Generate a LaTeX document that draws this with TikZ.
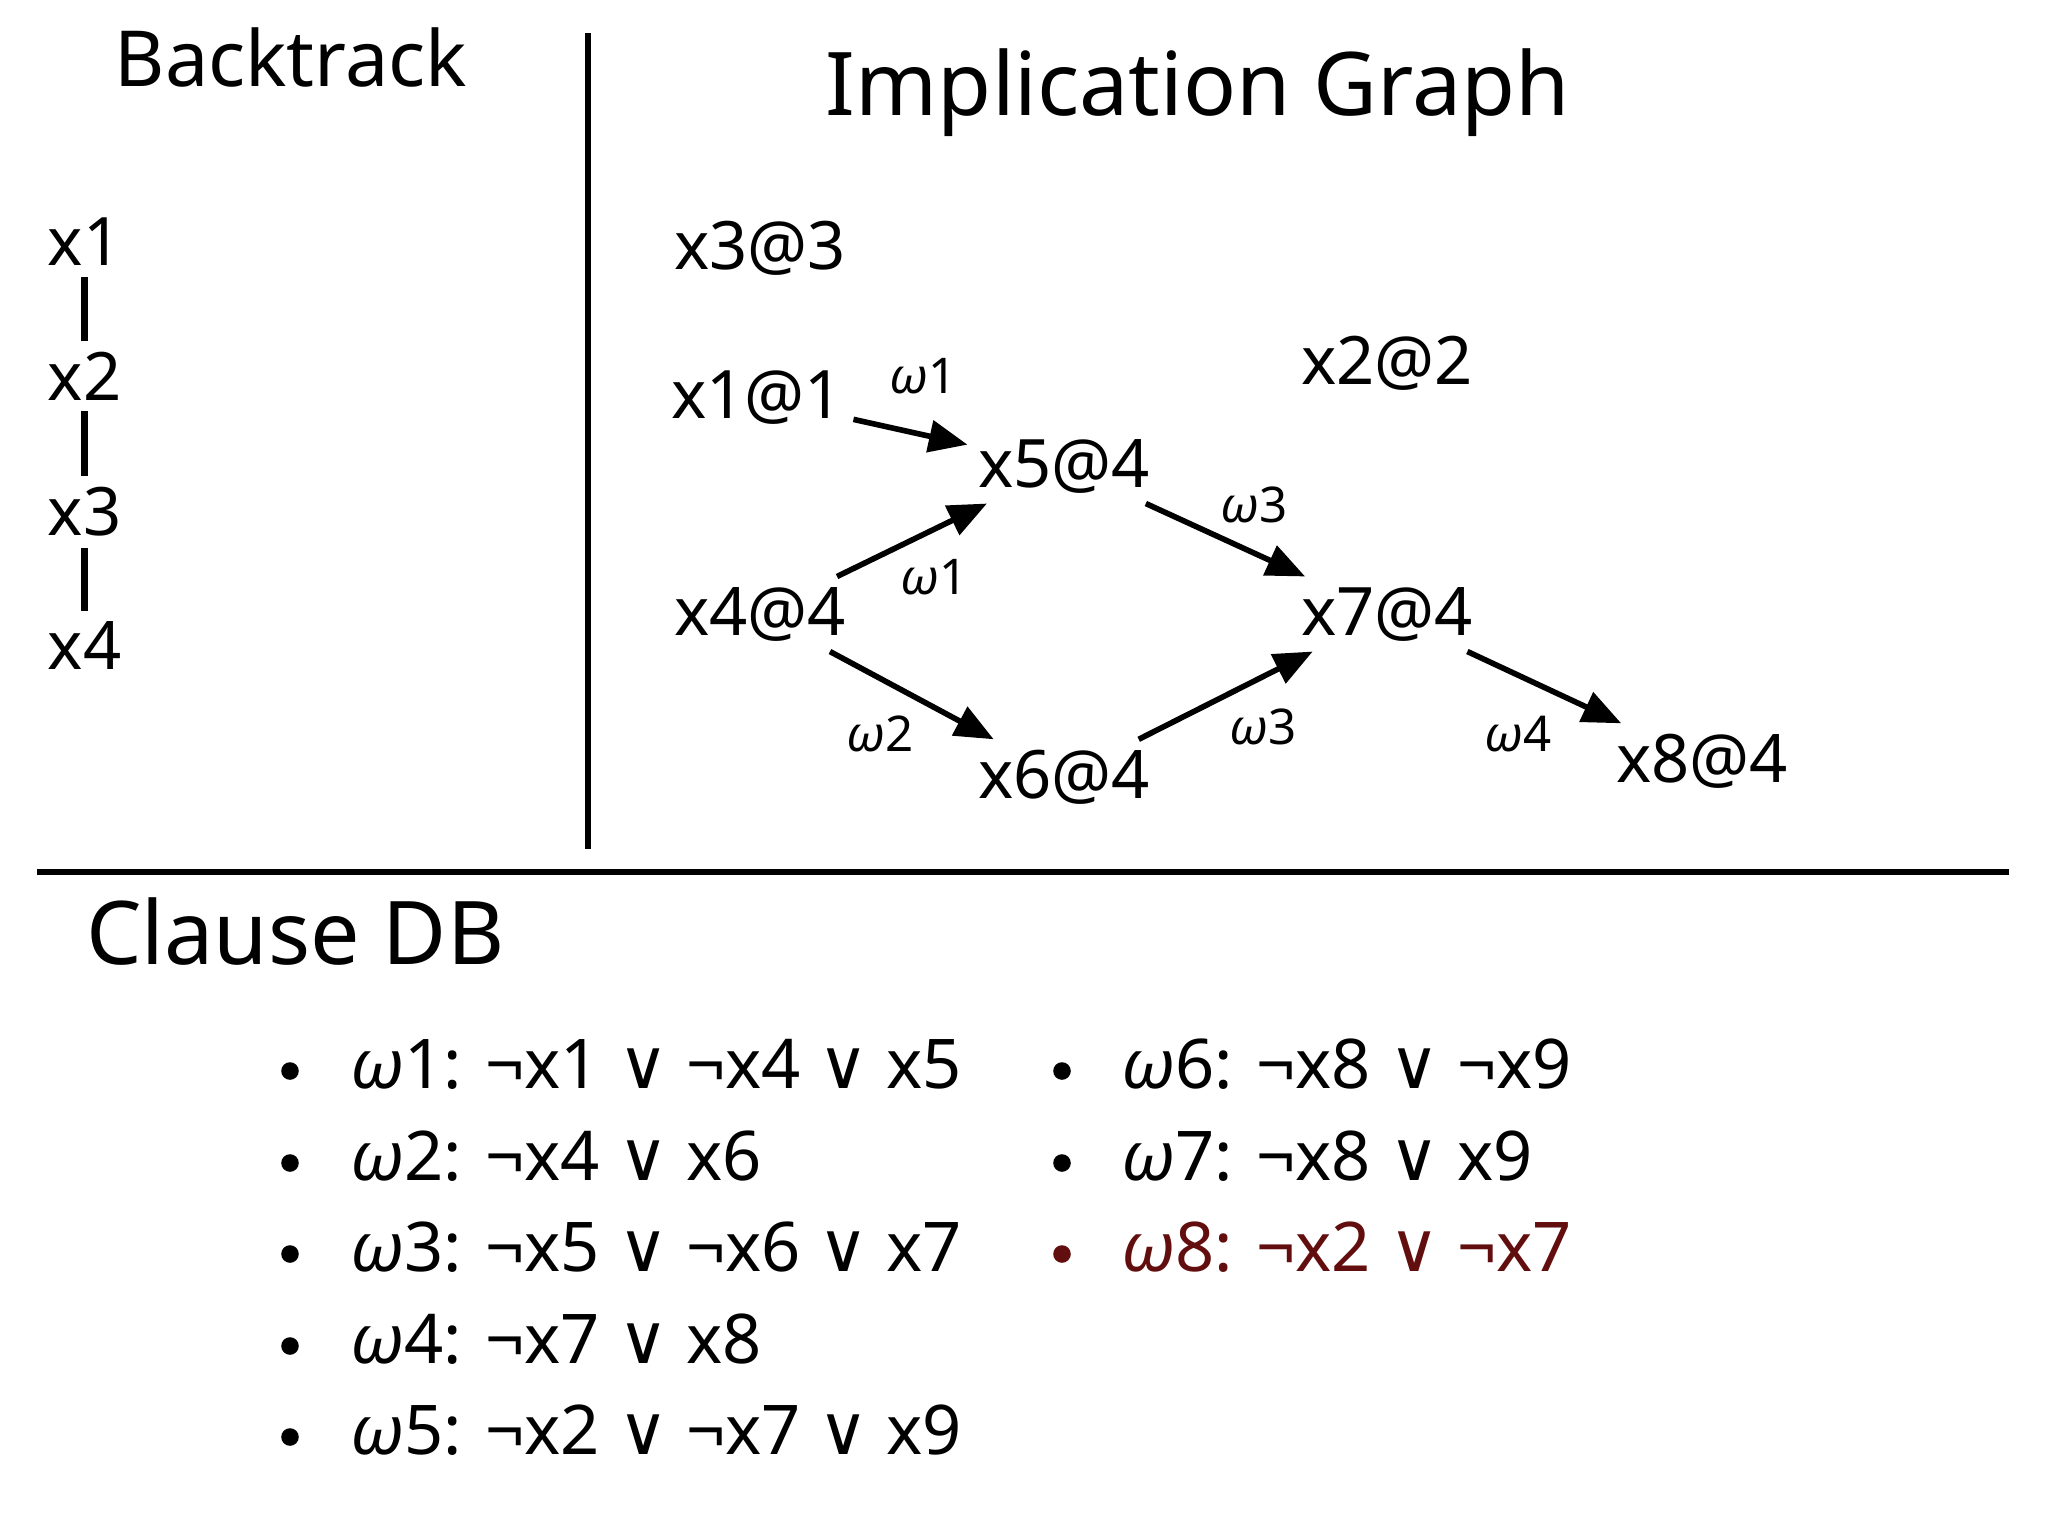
\documentclass[tikz,border=0pt]{standalone}
\usepackage{fontspec}
\setmainfont{Noto Sans}
\newfontfamily\symfont{DejaVu Sans}
\usetikzlibrary{arrows.meta, positioning}
\usepackage{xcolor}
\definecolor{conflict}{RGB}{98,14,14}
\newcommand{\om}{\textit{ω}}
\newcommand{\orsym}{{\symfont ∨}}

\begin{document}
\begin{tikzpicture}[x=0.01cm, y=-0.01cm, >={Triangle[length=11pt,width=9pt]}]
    \tikzstyle{heading}=[font=\fontsize{25}{30}\selectfont]
    \tikzstyle{var}=[font=\fontsize{19}{22}\selectfont, inner sep=2pt, anchor=west]
    \tikzstyle{lit}=[font=\fontsize{19}{22}\selectfont, inner sep=2pt, outer sep=1pt]
    \tikzstyle{reason}=[font=\fontsize{14}{16}\selectfont]
    \tikzstyle{imply}=[->, line width=1.6pt]
    \tikzstyle{bar}=[line width=2.2pt, shorten <=1pt, shorten >=1pt]
    \tikzstyle{rule}=[line width=1.7pt]
    \tikzstyle{dot}=[circle, fill, inner sep=0pt, minimum size=5pt]
    \tikzstyle{clause}=[font=\fontsize{19.5}{24}\selectfont, anchor=west, inner sep=0pt]

    \useasboundingbox (0,0) rectangle (2048,1536);

    % panels
    \draw[rule] (588,33) -- (588,849);
    \draw[rule] (37,872) -- (2009,872);
    \node[heading, font=\fontsize{22}{26}\selectfont] (bt) at (291,57) {Backtrack};
    \node[heading] (ig) at (1198,93) {Implication Graph};
    \node[heading, anchor=west] (db) at (74,932) {Clause DB};

    % decision stack
    \foreach \i/\y in {1/242,2/376,3/512,4/646}
        \node[var] (b-\i) at (40,\y) {x\i};
    \foreach \i/\j in {1/2,2/3,3/4}
        \draw[bar] (b-\i.south) -- (b-\j.north);

    % implication graph
    \node[lit] (x3) at (760,248) {x3@3};
    \node[lit] (x1) at (757,398) {x1@1};
    \node[lit] (x2) at (1387,363) {x2@2};
    \node[lit] (x5) at (1064,466) {x5@4};
    \node[lit] (x4) at (760,614) {x4@4};
    \node[lit] (x7) at (1387,614) {x7@4};
    \node[lit] (x6) at (1064,777) {x6@4};
    \node[lit] (x8) at (1702,761) {x8@4};

    \draw[imply] (x1) -- (x5);
    \draw[imply] (x4) -- (x5);
    \draw[imply] (x4) -- (x6);
    \draw[imply] (x5) -- (x7);
    \draw[imply] (x6) -- (x7);
    \draw[imply] (x7) -- (x8);

    \node[reason] (r-15) at (923,376) {\om 1};
    \node[reason] (r-45) at (934,577) {\om 1};
    \node[reason] (r-46) at (880,734) {\om 2};
    \node[reason] (r-57) at (1254,505) {\om 3};
    \node[reason] (r-67) at (1263,727) {\om 3};
    \node[reason] (r-78) at (1518,734) {\om 4};

    % clause database
    \foreach \n/\y/\body in {1/1064/{¬x1 \orsym{} ¬x4 \orsym{} x5},
                             2/1156/{¬x4 \orsym{} x6},
                             3/1247/{¬x5 \orsym{} ¬x6 \orsym{} x7},
                             4/1339/{¬x7 \orsym{} x8},
                             5/1430/{¬x2 \orsym{} ¬x7 \orsym{} x9}}
    {
        \node[dot] (d-\n) at (290,\y+7) {};
        \node[clause] (c-\n) at (350,\y) {\om\n: \body};
    }
    \foreach \n/\y/\body in {6/1064/{¬x8 \orsym{} ¬x9},
                             7/1156/{¬x8 \orsym{} x9}}
    {
        \node[dot] (d-\n) at (1062,\y+7) {};
        \node[clause] (c-\n) at (1121,\y) {\om\n: \body};
    }
    \node[dot, conflict] (d-8) at (1062,1254) {};
    \node[clause, text=conflict] (c-8) at (1121,1247) {\om8: ¬x2 \orsym{} ¬x7};
\end{tikzpicture}
\end{document}
